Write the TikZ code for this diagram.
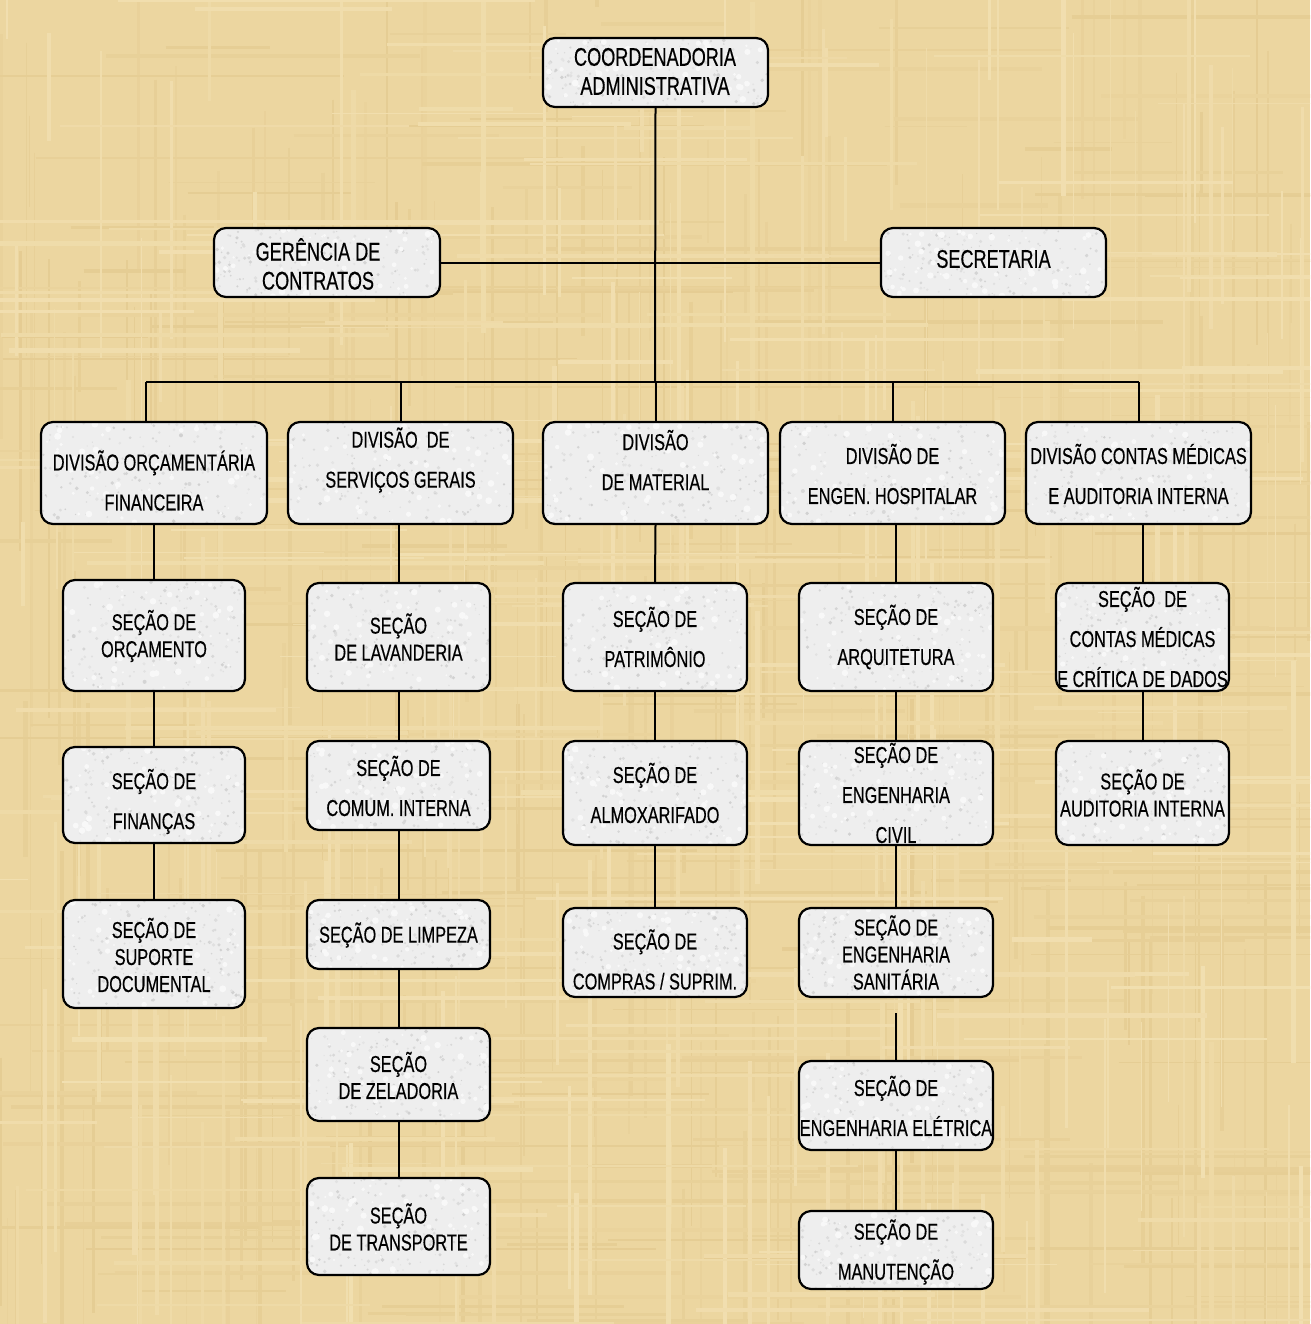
\documentclass[tikz,border=0pt]{standalone}
\usepackage{fontspec}
\setmainfont{Liberation Sans}[FakeStretch=0.71, FakeBold=0.4]
\usetikzlibrary{calc}

\definecolor{paper}{RGB}{236,214,160}
\definecolor{fiberdark}{RGB}{205,172,105}
\definecolor{fiberlight}{RGB}{248,234,196}
\definecolor{granite}{RGB}{238,238,238}

\newcommand\lblfont{\fontsize{23}{27}\selectfont}
\newcommand\toplblfont{\fontsize{25.5}{29}\selectfont}

\tikzset{
  orgframe/.style={draw=black, line width=2.2pt, rounded corners=12pt, inner sep=0pt},
  lbl/.style={align=center, font=\lblfont, inner sep=0pt},
  toplbl/.style={lbl, font=\toplblfont},
  link/.style={draw=black, line width=2pt},
}

% granite-filled rounded box: name, x1, y1, x2, y2, text centre y, text
\newcommand\orgshell[5]{%
  \begin{scope}
    \clip[rounded corners=12pt] (#2,#3) rectangle (#4,#5);
    \fill[granite] (#2,#3) rectangle (#4,#5);
    \foreach \k in {1,...,170}{%
      \pgfmathsetmacro\spx{#2+rnd*(#4-#2)}%
      \pgfmathsetmacro\spy{#3+rnd*(#5-#3)}%
      \pgfmathsetmacro\spr{0.6+rnd*1.4}%
      \pgfmathtruncatemacro\spo{4+rnd*9}%
      \fill[black!\spo!granite] (\spx,\spy) circle (\spr pt);
    }
    \foreach \k in {1,...,60}{%
      \pgfmathsetmacro\spx{#2+rnd*(#4-#2)}%
      \pgfmathsetmacro\spy{#3+rnd*(#5-#3)}%
      \pgfmathsetmacro\spr{1+rnd*2.5}%
      \fill[white!60!granite] (\spx,\spy) circle (\spr pt);
    }
  \end{scope}
  \node[orgframe, minimum width={(#4-#2)*1pt}, minimum height={(#5-#3)*1pt}]
    (#1) at ({(#2+#4)/2},{(#3+#5)/2}) {};
}
\newcommand\orgbox[7]{%
  \orgshell{#1}{#2}{#3}{#4}{#5}%
  \node[lbl] (#1-t) at ({(#2+#4)/2},#6) {#7};
}

\begin{document}
\begin{tikzpicture}[x=1pt, y=-1pt]
\useasboundingbox (0,0) rectangle (1310,1324);

% papyrus background with woven fibres
\begin{scope}
  \clip (0,0) rectangle (1310,1324);
  \fill[paper] (0,0) rectangle (1310,1324);
  \pgfmathsetseed{11}
  \foreach \i in {1,...,220}{%
    \pgfmathsetmacro\fx{rnd*1310}%
    \pgfmathsetmacro\fy{rnd*1324-100}%
    \pgfmathsetmacro\fl{80+rnd*500}%
    \pgfmathsetmacro\fw{0.8+rnd*3.5}%
    \pgfmathtruncatemacro\fo{8+rnd*16}%
    \draw[fiberdark!\fo!paper, line width=\fw pt] (\fx,\fy) -- ++(0,\fl);
  }
  \foreach \i in {1,...,220}{%
    \pgfmathsetmacro\fx{rnd*1310-100}%
    \pgfmathsetmacro\fy{rnd*1324}%
    \pgfmathsetmacro\fl{80+rnd*500}%
    \pgfmathsetmacro\fw{0.8+rnd*3.5}%
    \pgfmathtruncatemacro\fo{8+rnd*16}%
    \draw[fiberdark!\fo!paper, line width=\fw pt] (\fx,\fy) -- ++(\fl,0);
  }
  \foreach \i in {1,...,180}{%
    \pgfmathsetmacro\fx{rnd*1310}%
    \pgfmathsetmacro\fy{rnd*1324-100}%
    \pgfmathsetmacro\fl{80+rnd*400}%
    \pgfmathsetmacro\fw{1+rnd*4}%
    \pgfmathtruncatemacro\fo{15+rnd*30}%
    \draw[fiberlight!\fo!paper, line width=\fw pt] (\fx,\fy) -- ++(0,\fl);
  }
  \foreach \i in {1,...,180}{%
    \pgfmathsetmacro\fx{rnd*1310-100}%
    \pgfmathsetmacro\fy{rnd*1324}%
    \pgfmathsetmacro\fl{80+rnd*400}%
    \pgfmathsetmacro\fw{1+rnd*4}%
    \pgfmathtruncatemacro\fo{15+rnd*30}%
    \draw[fiberlight!\fo!paper, line width=\fw pt] (\fx,\fy) -- ++(\fl,0);
  }
\end{scope}

% top level
\orgshell{top}{543}{38}{768}{107}
\node[toplbl] (top-t) at (655,71.5) {COORDENADORIA\\ADMINISTRATIVA};
\orgshell{ger}{214}{228}{440}{297}
\node[toplbl] (ger-t) at (318,264) {GERÊNCIA DE\\CONTRATOS};
\orgshell{sec}{881}{228}{1106}{297}
\node[toplbl] (sec-t) at (993.5,259) {SECRETARIA};

% divisions
\orgbox{d1}{41}{422}{267}{524}{480.5}{DIVISÃO ORÇAMENTÁRIA\\[13pt]FINANCEIRA}
\orgbox{d2}{288}{422}{513}{524}{460}{DIVISÃO\ \ DE\\[13pt]SERVIÇOS GERAIS}
\orgbox{d3}{543}{422}{768}{524}{460}{DIVISÃO\\[13pt]DE MATERIAL}
\orgbox{d4}{780}{422}{1005}{524}{474}{DIVISÃO DE\\[13pt]ENGEN. HOSPITALAR}
\orgbox{d5}{1026}{422}{1251}{524}{474}{DIVISÃO CONTAS MÉDICAS\\[13pt]E AUDITORIA INTERNA}

% sections, column 1
\orgbox{s11}{63}{580}{245}{691}{636}{SEÇÃO DE\\ORÇAMENTO}
\orgbox{s12}{63}{747}{245}{843}{801.5}{SEÇÃO DE\\[13pt]FINANÇAS}
\orgbox{s13}{63}{900}{245}{1008}{955}{SEÇÃO DE\\SUPORTE\\DOCUMENTAL}
% column 2
\orgbox{s21}{307}{583}{490}{691}{637}{SEÇÃO\\DE LAVANDERIA}
\orgbox{s22}{307}{741}{490}{830}{786}{SEÇÃO DE\\[13pt]COMUM. INTERNA}
\orgbox{s23}{307}{900}{490}{969}{935}{SEÇÃO DE LIMPEZA}
\orgbox{s24}{307}{1028}{490}{1121}{1075.5}{SEÇÃO\\DE ZELADORIA}
\orgbox{s25}{307}{1178}{490}{1275}{1227}{SEÇÃO\\DE TRANSPORTE}
% column 3
\orgbox{s31}{563}{583}{747}{691}{637}{SEÇÃO DE\\[13pt]PATRIMÔNIO}
\orgbox{s32}{563}{741}{747}{845}{793}{SEÇÃO DE\\[13pt]ALMOXARIFADO}
\orgbox{s33}{563}{908}{747}{997}{959.5}{SEÇÃO DE\\[13pt]COMPRAS / SUPRIM.}
% column 4
\orgbox{s41}{799}{583}{993}{691}{637}{SEÇÃO DE\\[13pt]ARQUITETURA}
\orgbox{s42}{799}{741}{993}{845}{793}{SEÇÃO DE\\[13pt]ENGENHARIA\\[13pt]CIVIL}
\orgbox{s43}{799}{908}{993}{997}{952.5}{SEÇÃO DE\\ENGENHARIA\\SANITÁRIA}
\orgbox{s44}{799}{1061}{993}{1150}{1106}{SEÇÃO DE\\[13pt]ENGENHARIA ELÉTRICA}
\orgbox{s45}{799}{1211}{993}{1289}{1252}{SEÇÃO DE\\[13pt]MANUTENÇÃO}
% column 5
\orgbox{s51}{1056}{583}{1229}{691}{637}{SEÇÃO\ \ DE\\[13pt]CONTAS MÉDICAS\\[13pt]E CRÍTICA DE DADOS}
\orgbox{s52}{1056}{741}{1229}{845}{793}{SEÇÃO DE\\AUDITORIA INTERNA}

% connectors
\coordinate (bus) at (655,382);
\coordinate (busL) at (146,382);
\coordinate (busR) at (1139,382);
\coordinate (gap) at ($(s43.south)+(0,15)$);

\draw[link] (top.south) -- (bus);
\draw[link] (ger.east) -- (sec.west);
\draw[link] (busL) -- (busR);
\draw[link] (busL) -- (busL |- d1.north);
\draw[link] (d2.north |- bus) -- (d2.north);
\draw[link] (d3.north |- bus) -- (d3.north);
\draw[link] (d4.north |- bus) -- (d4.north);
\draw[link] (busR) -- (busR |- d5.north);

\draw[link] (d1.south) -- (s11.north);
\draw[link] (s11.south) -- (s12.north);
\draw[link] (s12.south) -- (s13.north);

\draw[link] (s21.north |- d2.south) -- (s21.north);
\draw[link] (s21.south) -- (s22.north);
\draw[link] (s22.south) -- (s23.north);
\draw[link] (s23.south) -- (s24.north);
\draw[link] (s24.south) -- (s25.north);

\draw[link] (d3.south) -- (s31.north);
\draw[link] (s31.south) -- (s32.north);
\draw[link] (s32.south) -- (s33.north);

\draw[link] (s41.north |- d4.south) -- (s41.north);
\draw[link] (s41.south) -- (s42.north);
\draw[link] (s42.south) -- (s43.north);
\draw[link] (gap) -- (s44.north);
\draw[link] (s44.south) -- (s45.north);

\draw[link] (s51.north |- d5.south) -- (s51.north);
\draw[link] (s51.south) -- (s52.north);
\end{tikzpicture}
\end{document}
